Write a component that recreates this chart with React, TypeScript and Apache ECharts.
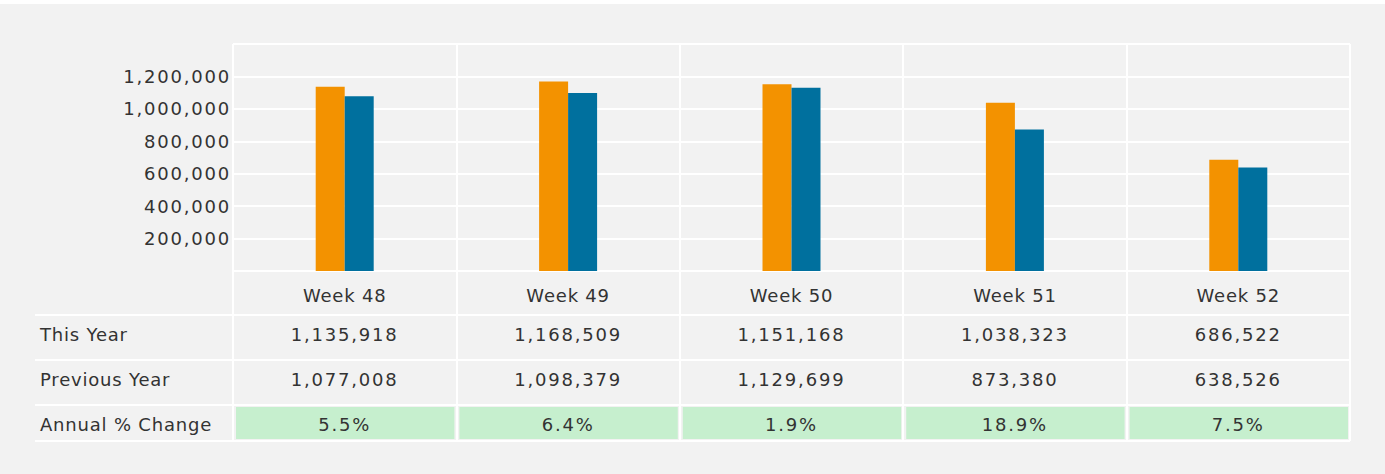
import React, { useEffect, useRef } from "react";
import * as echarts from "echarts";

const weeks = ["Week 48", "Week 49", "Week 50", "Week 51", "Week 52"];
const thisYear = [1135918, 1168509, 1151168, 1038323, 686522];
const previousYear = [1077008, 1098379, 1129699, 873380, 638526];
const annualChange = ["5.5%", "6.4%", "1.9%", "18.9%", "7.5%"];
const rowLabels = ["This Year", "Previous Year", "Annual % Change"];
const yMax = 1400000;
const yStep = 200000;

const FONT = '"DejaVu Sans", sans-serif';
const TEXT = "#333333";
const fmt = (v: number) => v.toLocaleString("en-US");

// table row edges inside the table grid (grid units = px from the table top)
const ROW_EDGES = [44, 89, 134, 170];

export default function App() {
  const ref = useRef<HTMLDivElement>(null);

  useEffect(() => {
    document.body.style.margin = "0";
    const el = ref.current!;
    const chart = echarts.init(el, null, { renderer: "svg" });

    const rowValues = (r: number, i: number) =>
      r === 0 ? fmt(thisYear[i]) : r === 1 ? fmt(previousYear[i]) : annualChange[i];

    const option: any = {
      animation: false,
      backgroundColor: "#f2f2f2",
      textStyle: { fontFamily: FONT },
      graphic: [
        {
          type: "rect",
          silent: true,
          shape: { x: 0, y: 0, width: 1385, height: 4 },
          style: { fill: "#ffffff" },
        },
      ],
      grid: [
        { left: 233, right: 35, top: 44, height: 227 },
        { left: 233, right: 35, top: 271, height: 170 },
      ],
      xAxis: [
        {
          type: "category",
          gridIndex: 0,
          data: weeks,
          axisLine: { show: false },
          axisTick: { show: false },
          axisLabel: { margin: 15, fontSize: 18, color: TEXT, fontFamily: FONT },
          splitLine: { show: true, lineStyle: { color: "#ffffff", width: 2 } },
        },
        {
          type: "category",
          gridIndex: 1,
          data: weeks,
          axisLine: { show: false },
          axisTick: { show: false },
          axisLabel: { show: false },
          splitLine: { show: true, lineStyle: { color: "#ffffff", width: 2 } },
        },
      ],
      yAxis: [
        {
          type: "value",
          gridIndex: 0,
          min: 0,
          max: yMax,
          interval: yStep,
          axisLine: { show: false },
          axisTick: { show: false },
          axisLabel: {
            margin: 2,
            fontSize: 18,
            color: TEXT,
            fontFamily: FONT,
            padding: [0, 0, 7, 0],
            formatter: (v: number) => (v === 0 || v === yMax ? "" : fmt(v)),
          },
          splitLine: { show: true, lineStyle: { color: "#ffffff", width: 2 } },
        },
        { type: "value", gridIndex: 1, min: 0, max: 170, inverse: true, show: false },
      ],
      series: [
        {
          name: "This Year",
          type: "bar",
          xAxisIndex: 0,
          yAxisIndex: 0,
          data: thisYear,
          barWidth: 29,
          barGap: "0%",
          silent: true,
          itemStyle: { color: "#F39200" },
        },
        {
          name: "Previous Year",
          type: "bar",
          xAxisIndex: 0,
          yAxisIndex: 0,
          data: previousYear,
          barWidth: 29,
          barGap: "0%",
          silent: true,
          itemStyle: { color: "#00709E" },
        },
        {
          type: "custom",
          xAxisIndex: 1,
          yAxisIndex: 1,
          silent: true,
          clip: false,
          data: rowLabels.map((_, r) => [0, r]),
          renderItem: (params: any, api: any) => {
            const r = api.value(1) as number;
            const cs = params.coordSys;
            const top = api.coord([0, ROW_EDGES[r]])[1];
            const bottom = api.coord([0, ROW_EDGES[r + 1]])[1];
            const band = api.size([1, 0])[0];
            const right = cs.x + cs.width;
            const children: any[] = [];
            children.push({
              type: "line",
              shape: { x1: 35, y1: top, x2: right, y2: top },
              style: { stroke: "#ffffff", lineWidth: 2 },
            });
            if (r === rowLabels.length - 1) {
              children.push({
                type: "line",
                shape: { x1: 35, y1: bottom, x2: right, y2: bottom },
                style: { stroke: "#ffffff", lineWidth: 2 },
              });
            }
            children.push({
              type: "text",
              style: {
                text: rowLabels[r],
                x: 40,
                y: top + 19,
                fill: TEXT,
                fontSize: 18,
                fontFamily: FONT,
                align: "left",
                verticalAlign: "middle",
                textAlign: "left",
                textVerticalAlign: "middle",
              },
            });
            weeks.forEach((_, i) => {
              const cx = api.coord([i, 0])[0];
              if (r === 2) {
                children.push({
                  type: "rect",
                  shape: { x: cx - band / 2 + 3, y: top + 2, width: band - 5, height: bottom - top - 4 },
                  style: { fill: "#C6EFCE" },
                });
              }
              children.push({
                type: "text",
                style: {
                  text: rowValues(r, i),
                  x: cx,
                  y: top + 19,
                  fill: TEXT,
                  fontSize: 18,
                  fontFamily: FONT,
                  align: "center",
                  verticalAlign: "middle",
                  textAlign: "center",
                  textVerticalAlign: "middle",
                },
              });
            });
            return { type: "group", children };
          },
        },
      ],
    };

    const space = () => {
      el.querySelectorAll("text").forEach((t) => {
        const s = t.textContent || "";
        t.setAttribute("letter-spacing", /^[\d,.%]+$/.test(s) ? "1.8" : "0.8");
      });
    };
    chart.on("finished", space);
    chart.setOption(option);
    space();
    return () => chart.dispose();
  }, []);

  return <div ref={ref} style={{ width: 1385, height: 474 }} />;
}
